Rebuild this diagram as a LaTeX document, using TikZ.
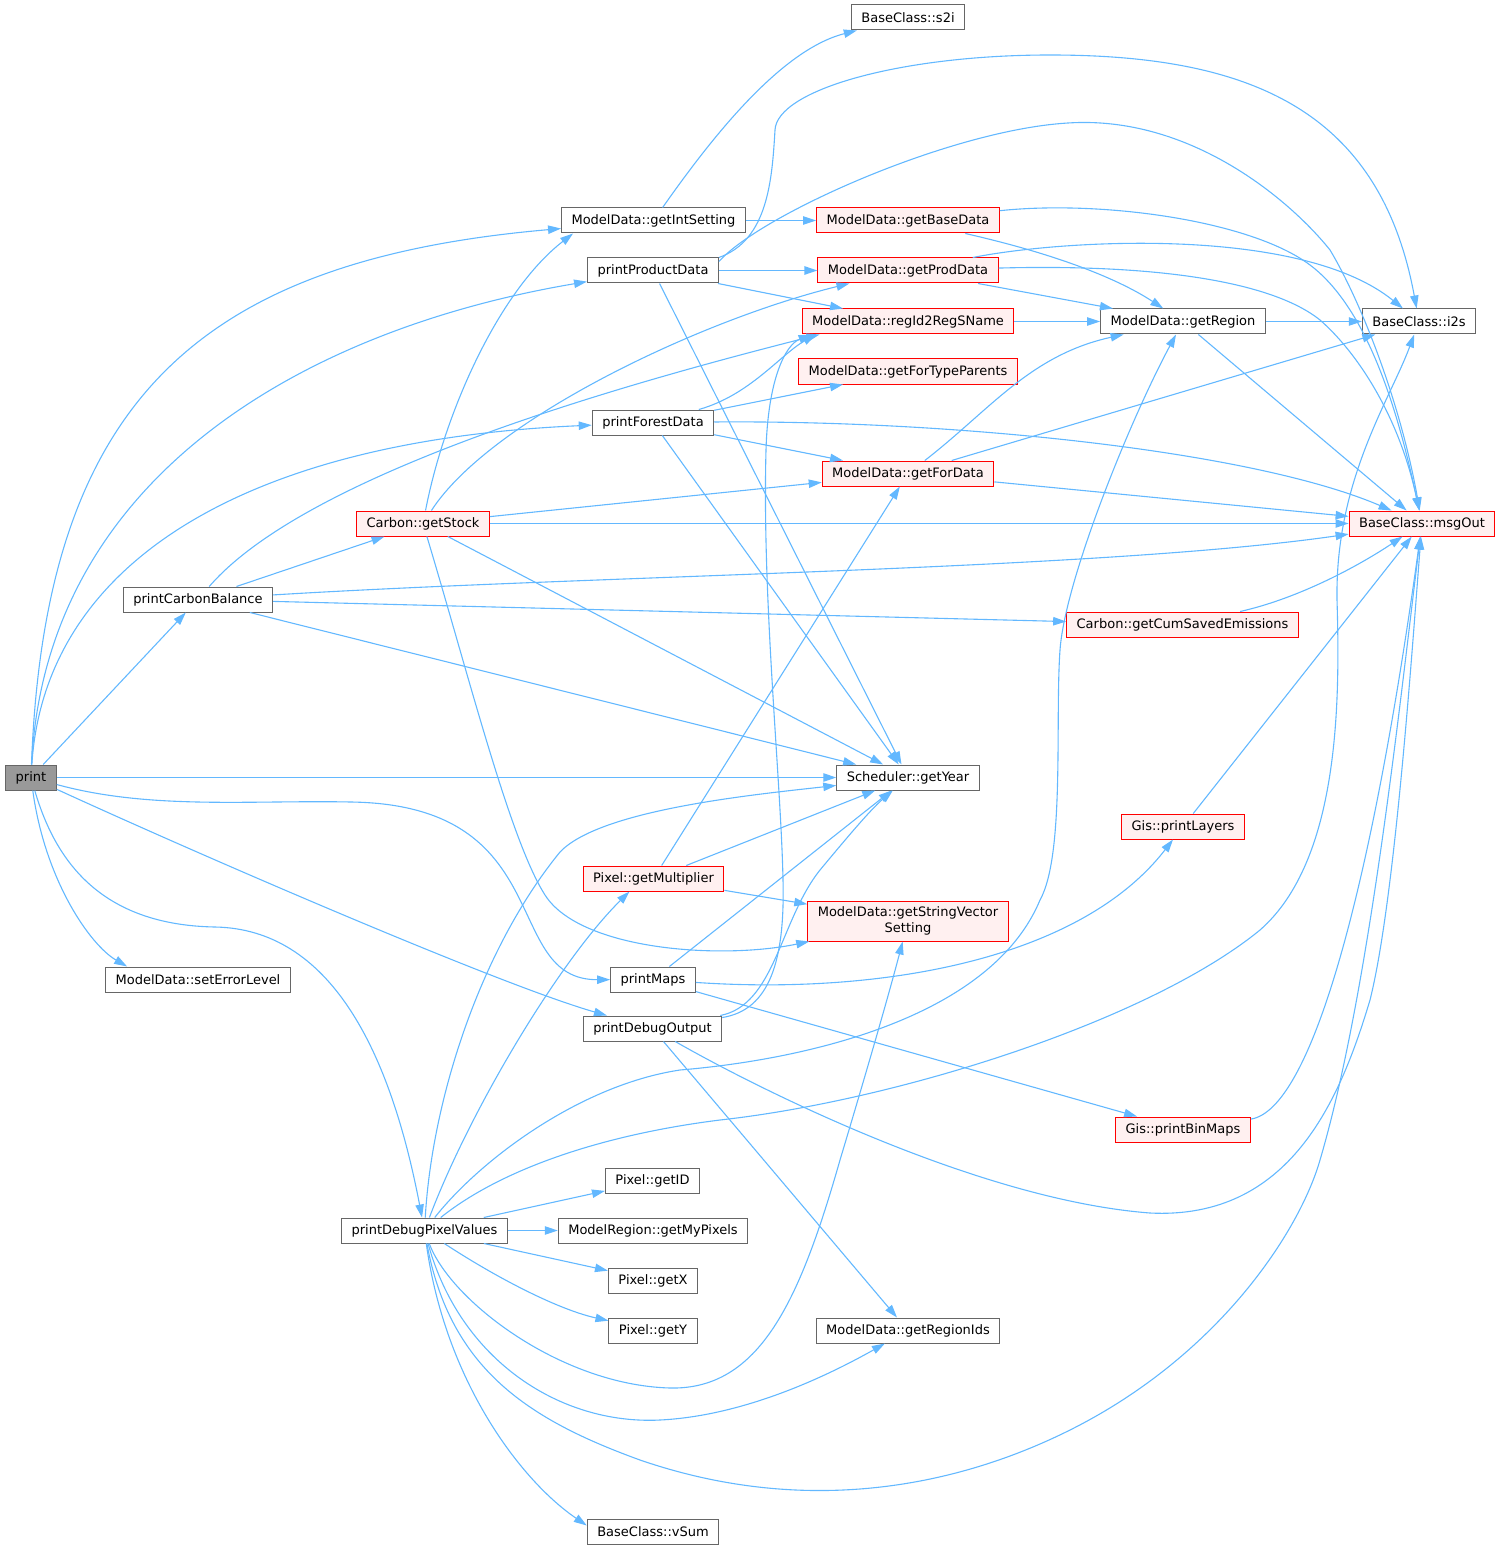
\documentclass[tikz,border=0pt]{standalone}
\usepackage{fontspec}
\setmainfont{DejaVu Sans}
\usetikzlibrary{arrows.meta}
\definecolor{edgeblue}{HTML}{63B8FF}
\definecolor{boxgray}{HTML}{666666}
\definecolor{rootgray}{HTML}{999999}
\definecolor{redfill}{HTML}{FFF0F0}

\begin{document}
\begin{tikzpicture}[x=0.5pt, y=-0.5pt,
  box/.style={draw=boxgray, fill=white, line width=0.5pt, inner xsep=5pt, inner ysep=1pt,
    minimum height=12.5pt, font=\fontsize{6.5}{7.8}\selectfont},
  rootbox/.style={box, fill=rootgray},
  redbox/.style={box, draw=red, fill=redfill},
  edge/.style={draw=edgeblue, line width=0.55pt, -{Triangle[length=6.5pt,width=4.2pt]}}]
%\draw [lightgray](0,0) grid (1501,1551);
\useasboundingbox (0,0) rectangle (1501,1551);

\node[rootbox] (print) at (31,777.5) {print};
\node[box] (setErrorLevel) at (198,979.5) {ModelData::setErrorLevel};
\node[box] (printCarbonBalance) at (198,599.5) {printCarbonBalance};
\node[box] (printDebugPixelValues) at (424.5,1230.5) {printDebugPixelValues};
\node[redbox] (getStock) at (423,523.5) {Carbon::getStock};

\node[box] (getIntSetting) at (653.5,220.5) {ModelData::getIntSetting};
\node[box] (printProductData) at (653,270.5) {printProductData};
\node[box] (printForestData) at (653,422.5) {printForestData};
\node[redbox] (getMultiplier) at (653.5,878.5) {Pixel::getMultiplier};
\node[box] (printMaps) at (653,979.5) {printMaps};
\node[box] (printDebugOutput) at (652.5,1028.5) {printDebugOutput};
\node[box] (getID) at (652.5,1180.5) {Pixel::getID};
\node[box] (getMyPixels) at (653,1230.5) {ModelRegion::getMyPixels};
\node[box] (getX) at (653,1280.5) {Pixel::getX};
\node[box] (getY) at (653,1330.5) {Pixel::getY};
\node[box] (vSum) at (653,1531.5) {BaseClass::vSum};

\node[box] (s2i) at (908,17.5) {BaseClass::s2i};
\node[redbox] (getBaseData) at (908,220.5) {ModelData::getBaseData};
\node[redbox] (getProdData) at (908,270.5) {ModelData::getProdData};
\node[redbox] (regId2RegSName) at (908,321.5) {ModelData::regId2RegSName};
\node[redbox] (getForTypeParents) at (908,371.5) {ModelData::getForTypeParents};
\node[redbox] (getForData) at (908,473.5) {ModelData::getForData};
\node[box] (getYear) at (908,777.5) {Scheduler::getYear};
\node[redbox, align=center, minimum height=20pt] (getStringVectorSetting) at (908,921) {ModelData::getStringVector\\Setting};
\node[box] (getRegionIds) at (908,1330.5) {ModelData::getRegionIds};

\node[box] (getRegion) at (1183,321.5) {ModelData::getRegion};
\node[redbox] (getCumSavedEmissions) at (1182.5,624.5) {Carbon::getCumSavedEmissions};
\node[redbox] (printLayers) at (1183,826.5) {Gis::printLayers};
\node[redbox] (printBinMaps) at (1183,1129.5) {Gis::printBinMaps};
\node[box] (i2s) at (1419,321.5) {BaseClass::i2s};
\node[redbox] (msgOut) at (1422,523.5) {BaseClass::msgOut};

\draw[edge] (print) .. controls (45,400) and (200,260) .. (getIntSetting);
\draw[edge] (print) .. controls (45,480) and (300,330) .. (printProductData);
\draw[edge] (print) .. controls (45,560) and (250,440) .. (printForestData);
\draw[edge] (print) -- (printCarbonBalance);
\draw[edge] (print) -- (getYear);
\draw[edge] (print) .. controls (45,880) and (90,945) .. ([xshift=11pt]setErrorLevel.north west);
\draw[edge] (print) .. controls (55,860) and (100,925) .. (215,927) .. controls (330,929) and (390,1050) .. (printDebugPixelValues);
\draw[edge] (print) .. controls (150,810) and (250,800) .. (351,802) .. controls (560,805) and (500,980) .. (printMaps);
\draw[edge] (print) .. controls (200,855) and (500,985) .. (printDebugOutput);

\draw[edge] (printCarbonBalance) -- (getStock);
\draw[edge] (printCarbonBalance) .. controls (310,470) and (640,380) .. ([xshift=9pt]regId2RegSName.south west);
\draw[edge] (printCarbonBalance) .. controls (600,575) and (1100,570) .. (msgOut);
\draw[edge] (printCarbonBalance) -- (getCumSavedEmissions);
\draw[edge] (printCarbonBalance) -- (getYear);

\draw[edge] (getStock) .. controls (445,410) and (500,290) .. ([xshift=6pt]getIntSetting.south west);
\draw[edge] (getStock) .. controls (490,420) and (700,320) .. ([xshift=16pt]getProdData.south west);
\draw[edge] (getStock) -- (getForData);
\draw[edge] (getStock) -- (msgOut);
\draw[edge] (getStock) -- (getYear);
\draw[edge] (getStock) .. controls (470,680) and (510,840) .. (545,895) .. controls (580,950) and (720,960) .. (getStringVectorSetting);

\draw[edge] (getIntSetting) .. controls (710,140) and (780,50) .. (s2i);
\draw[edge] (getIntSetting) -- (getBaseData);
\draw[edge] (printProductData.north east) .. controls (768,240) and (772,180) .. (775,130) .. controls (777,90) and (900,55) .. (1050,55) .. controls (1250,55) and (1380,110) .. (i2s);
\draw[edge] ([yshift=-2pt]printProductData.north east) .. controls (760,215) and (950,130) .. (1068,123) .. controls (1190,115) and (1290,200) .. (1330,250) .. controls (1360,300) and (1400,400) .. (msgOut);
\draw[edge] (printProductData) -- (getProdData);
\draw[edge] (printProductData) -- (regId2RegSName);
\draw[edge] (printProductData) -- (getYear);

\draw[edge] (getBaseData) .. controls (1100,200) and (1250,220) .. (1310,265) .. controls (1370,310) and (1400,420) .. (msgOut);
\draw[edge] (getBaseData) .. controls (1060,255) and (1120,280) .. (getRegion);
\draw[edge] (getProdData) .. controls (1060,240) and (1300,225) .. (i2s);
\draw[edge] (getProdData) .. controls (1150,264) and (1270,280) .. (1320,320) .. controls (1360,355) and (1400,420) .. (msgOut);
\draw[edge] (getProdData) -- (getRegion);
\draw[edge] (regId2RegSName) -- (getRegion);

\draw[edge] (printForestData) .. controls (750,395) and (780,355) .. ([xshift=7pt]regId2RegSName.south west);
\draw[edge] (printForestData) -- (getForTypeParents);
\draw[edge] (printForestData) -- (getForData);
\draw[edge] (printForestData) .. controls (950,420) and (1250,450) .. (msgOut);
\draw[edge] (printForestData) -- (getYear);

\draw[edge] (getForData) .. controls (990,410) and (1030,355) .. (getRegion);
\draw[edge] (getForData) -- (i2s);
\draw[edge] (getForData) -- (msgOut);
\draw[edge] (getRegion) -- (i2s);
\draw[edge] (getRegion) -- (msgOut);
\draw[edge] (getCumSavedEmissions) .. controls (1300,598) and (1360,565) .. (msgOut);
\draw[edge] (printLayers) -- (msgOut);
\draw[edge] (printBinMaps) .. controls (1310,1110) and (1370,900) .. (msgOut);

\draw[edge] (getMultiplier) -- (getForData);
\draw[edge] (getMultiplier) -- (getYear);
\draw[edge] (getMultiplier) -- (getStringVectorSetting);
\draw[edge] (printMaps) -- (getYear);
\draw[edge] (printMaps) .. controls (880,995) and (1080,960) .. (printLayers);
\draw[edge] (printMaps) -- (printBinMaps);
\draw[edge] (printDebugOutput) .. controls (770,1010) and (785,960) .. (783,880) .. controls (781,780) and (762,600) .. (766,450) .. controls (768,380) and (785,345) .. ([xshift=5pt]regId2RegSName.south west);
\draw[edge] (printDebugOutput) .. controls (775,1005) and (780,920) .. (820,870) .. controls (845,840) and (870,810) .. (getYear);
\draw[edge] (printDebugOutput) .. controls (760,1090) and (980,1200) .. (1150,1213) .. controls (1290,1220) and (1340,1100) .. (1370,1000) .. controls (1395,900) and (1412,650) .. (msgOut);
\draw[edge] (printDebugOutput) -- (getRegionIds);

\draw[edge] (printDebugPixelValues) .. controls (432,1100) and (480,950) .. (560,852) .. controls (600,810) and (750,795) .. (getYear);
\draw[edge] (printDebugPixelValues) .. controls (470,1110) and (560,960) .. ([xshift=-12pt]getMultiplier.south);
\draw[edge] (printDebugPixelValues) .. controls (480,1160) and (580,1085) .. (680,1070) .. controls (800,1060) and (990,1020) .. (1040,900) .. controls (1065,855) and (1055,720) .. (1060,650) .. controls (1065,580) and (1130,420) .. (getRegion);
\draw[edge] (printDebugPixelValues) .. controls (500,1170) and (600,1135) .. (720,1120) .. controls (900,1100) and (1150,1020) .. (1260,930) .. controls (1340,860) and (1340,700) .. (1337,600) .. controls (1335,480) and (1390,400) .. (i2s);
\draw[edge] (printDebugPixelValues) .. controls (450,1300) and (560,1385) .. (670,1388) .. controls (760,1390) and (800,1300) .. (840,1160) .. controls (870,1060) and (890,990) .. (getStringVectorSetting);
\draw[edge] (printDebugPixelValues) .. controls (460,1360) and (560,1425) .. (660,1420) .. controls (740,1416) and (820,1380) .. (getRegionIds);
\draw[edge] (printDebugPixelValues) .. controls (450,1370) and (530,1420) .. (640,1460) .. controls (800,1515) and (950,1490) .. (1070,1430) .. controls (1220,1355) and (1300,1230) .. (1320,1160) .. controls (1370,990) and (1400,700) .. (msgOut);
\draw[edge] (printDebugPixelValues) .. controls (445,1380) and (520,1480) .. ([yshift=3pt]vSum.west);
\draw[edge] (printDebugPixelValues) -- (getID);
\draw[edge] (printDebugPixelValues) -- (getMyPixels);
\draw[edge] (printDebugPixelValues) -- (getX);
\draw[edge] (printDebugPixelValues) .. controls (500,1280) and (560,1310) .. (getY);
\end{tikzpicture}
\end{document}
